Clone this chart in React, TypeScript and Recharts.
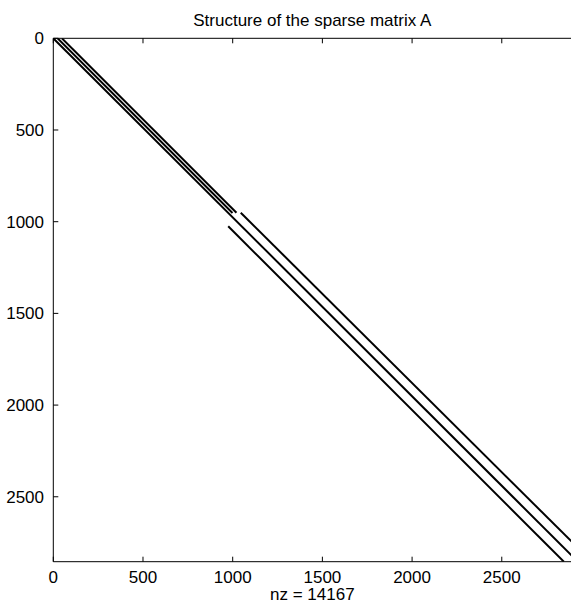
import { LineChart, Line, XAxis, YAxis, Label } from "recharts";

// axis limits (the right part of the plot is cut by the window)
const X_MAX = 2921;
const Y_MAX = 2854;
const axisTicks = [0, 500, 1000, 1500, 2000, 2500];

// segments of nonzeros, x = column, y = row
const diagonal = [{ x: 0, y: 0 }, { x: 2921, y: 2851 }];
const upperBand1 = [{ x: 24, y: 0 }, { x: 999, y: 953 }];
const upperBand2 = [{ x: 48, y: 0 }, { x: 1021, y: 951 }];
const lowerSuper = [{ x: 1045, y: 951 }, { x: 2921, y: 2775 }];
const lowerSub = [{ x: 975, y: 1025 }, { x: 2846, y: 2854 }];

const segments = [diagonal, upperBand1, upperBand2, lowerSuper, lowerSub];

const FONT = "'Liberation Sans', Arial, Helvetica, sans-serif";
const FS = 17;

function BottomTick({ x, y, payload }: any) {
  return (
    <g>
      <line x1={x} y1={y} x2={x} y2={y - 5} stroke="#000" strokeWidth={1} />
      <text x={x} y={y + 21.3} textAnchor="middle" fontFamily={FONT} fontSize={FS} fill="#000">
        {payload.value}
      </text>
    </g>
  );
}

function TopTick({ x, y }: any) {
  return <line x1={x} y1={y} x2={x} y2={y + 5} stroke="#000" strokeWidth={1} />;
}

function LeftTick({ x, y, payload }: any) {
  return (
    <g>
      <line x1={x} y1={y} x2={x + 5} y2={y} stroke="#000" strokeWidth={1} />
      <text x={x - 9.3} y={y + 6} textAnchor="end" fontFamily={FONT} fontSize={FS} fill="#000">
        {payload.value}
      </text>
    </g>
  );
}

export default function App() {
  return (
    <div style={{ position: "absolute", left: 0, top: 0, width: 571, height: 606, overflow: "hidden", background: "#fff" }}>
      <LineChart width={600} height={606} margin={{ top: 18.3, right: 22.7, bottom: 4.3, left: 13.3 }}>
        <XAxis
          xAxisId="bottom"
          type="number"
          dataKey="x"
          domain={[0, X_MAX]}
          ticks={axisTicks}
          interval={0}
          allowDataOverflow
          height={40}
          tickSize={0}
          tickMargin={0}
          tickLine={false}
          tick={<BottomTick />}
          axisLine={{ stroke: "#000", strokeWidth: 1 }}
        >
          <Label
            content={({ viewBox }: any) => (
              <text
                x={viewBox.x + viewBox.width / 2 - 3}
                y={viewBox.y + 38.5}
                textAnchor="middle"
                fontFamily={FONT}
                fontSize={FS}
                fill="#000"
              >
                nz = 14167
              </text>
            )}
          />
        </XAxis>
        <XAxis
          xAxisId="top"
          orientation="top"
          type="number"
          dataKey="x"
          domain={[0, X_MAX]}
          ticks={axisTicks}
          interval={0}
          allowDataOverflow
          height={20}
          tickSize={0}
          tickMargin={0}
          tickLine={false}
          tick={<TopTick />}
          axisLine={{ stroke: "#000", strokeWidth: 1 }}
        >
          <Label
            content={({ viewBox }: any) => (
              <text
                x={viewBox.x + viewBox.width / 2 - 3}
                y={26}
                textAnchor="middle"
                fontFamily={FONT}
                fontSize={FS}
                fill="#000"
              >
                Structure of the sparse matrix A
              </text>
            )}
          />
        </XAxis>
        <YAxis
          type="number"
          domain={[0, Y_MAX]}
          reversed
          ticks={axisTicks}
          interval={0}
          allowDataOverflow
          width={40}
          tickSize={0}
          tickMargin={0}
          tickLine={false}
          tick={<LeftTick />}
          axisLine={{ stroke: "#000", strokeWidth: 1 }}
        />
        {segments.map((seg, i) => (
          <Line
            key={i}
            xAxisId="bottom"
            data={seg}
            dataKey="y"
            type="linear"
            stroke="#000"
            strokeWidth={2}
            dot={false}
            activeDot={false}
            isAnimationActive={false}
          />
        ))}
      </LineChart>
    </div>
  );
}
